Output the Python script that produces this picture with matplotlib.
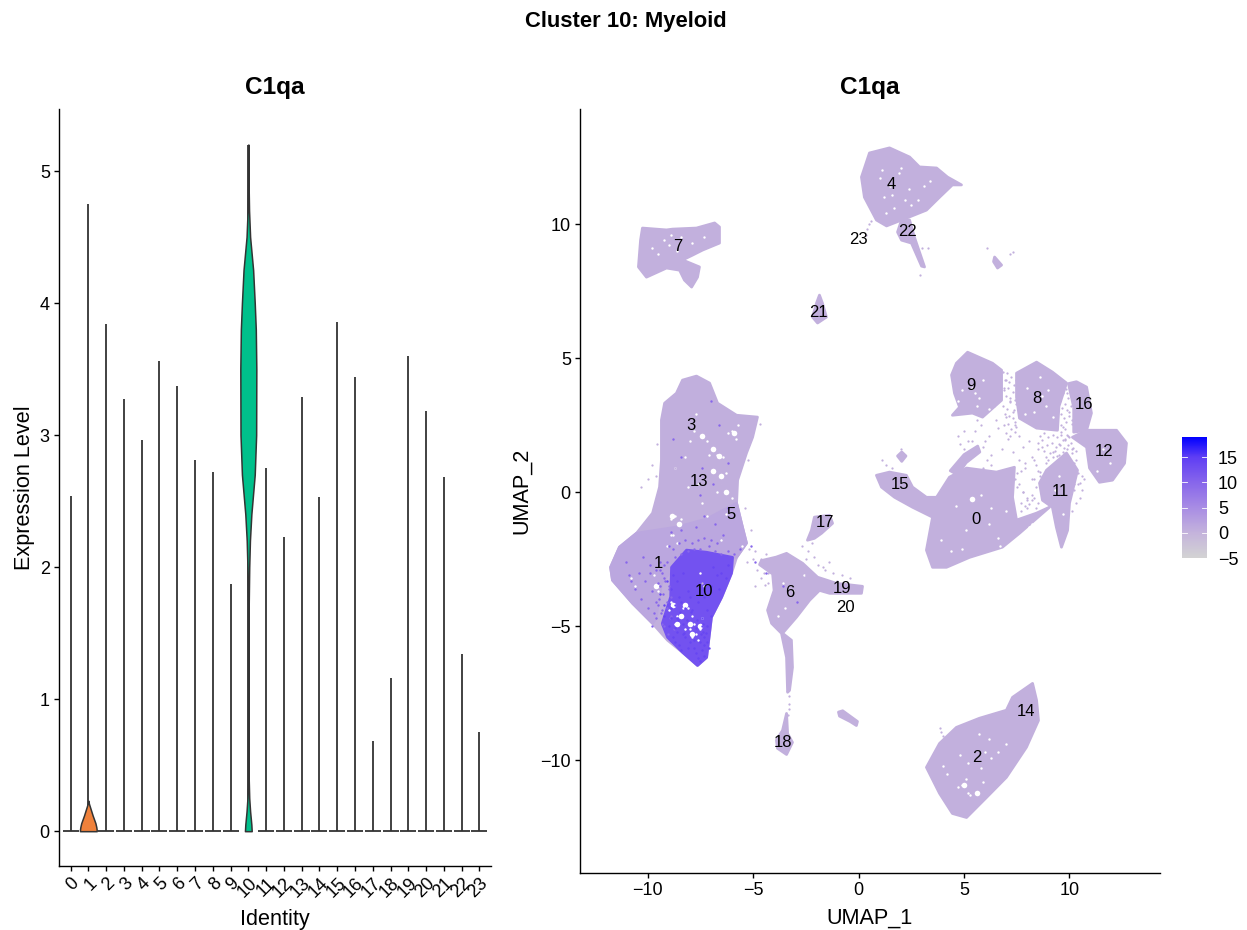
#!/usr/bin/env python3

import numpy as np
import matplotlib
matplotlib.use("Agg")
import matplotlib.pyplot as plt
from matplotlib.cm import ScalarMappable
from matplotlib.colors import LinearSegmentedColormap, Normalize
from matplotlib.patches import Polygon

plt.rcParams["font.family"] = ["Liberation Sans", "DejaVu Sans"]
plt.rcParams["axes.unicode_minus"] = True

identities = [str(i) for i in range(24)]
violin_max = [2.54, 4.75, 3.84, 3.27, 2.96, 3.56, 3.37, 2.81, 2.72, 1.87, 5.2, 2.75,
              2.23, 3.29, 2.53, 3.86, 3.44, 0.68, 1.16, 3.6, 3.18, 2.68, 1.34, 0.75]

# violin outlines (level, half width)
violin1_y = [0, 0.01, 0.03, 0.06, 0.09, 0.12, 0.15, 0.18, 0.21, 0.23]
violin1_w = [0.47, 0.47, 0.45, 0.4, 0.32, 0.24, 0.17, 0.1, 0.03, 0.01]
violin10_y = [0, 0.05, 0.15, 0.25, 0.4, 1.0, 1.7, 2.0, 2.2, 2.4, 2.7, 3.0, 3.5, 3.8, 4.0, 4.25, 4.5, 4.7, 4.9, 5.2]
violin10_w = [0.19, 0.17, 0.1, 0.05, 0.02, 0.015, 0.02, 0.05, 0.09, 0.17, 0.36, 0.44, 0.45, 0.42, 0.36, 0.27, 0.1, 0.04, 0.015, 0.01]

# UMAP cell regions, in UMAP units
c_left = [(-7.68, 4.33), (-7.06, 4.07), (-6.68, 3.32), (-5.78, 2.87), (-4.79, 2.8), (-5.02, 2.05),
          (-5.31, 1.46), (-5.73, 0.45), (-5.78, -0.41), (-5.5, -1.31), (-5.31, -1.9), (-5.78, -2.43),
          (-6.02, -3.02), (-6.49, -3.92), (-6.97, -4.66), (-7.2, -6.16), (-7.63, -6.46), (-8.34, -5.97),
          (-9.05, -5.52), (-9.76, -4.89), (-10.71, -4.14), (-11.66, -3.28), (-11.75, -2.8), (-11.33, -2.05),
          (-10.52, -1.53), (-9.76, -0.78), (-9.43, 0.19), (-9.34, 1.19), (-9.34, 2.69), (-9.19, 3.32),
          (-8.63, 3.69), (-8.34, 4.18)]
c_band = [(-5.78, -0.41), (-5.5, -1.31), (-5.31, -1.9), (-5.78, -2.43), (-8.15, -2.16), (-9.34, -3.4),
          (-9.6, -4.7), (-9.76, -4.89), (-10.71, -4.14), (-11.66, -3.28), (-11.75, -2.8), (-11.33, -2.05),
          (-10.52, -1.53), (-8.6, -1.3), (-7.2, -1.0)]
c10 = [(-8.15, -2.16), (-7.2, -2.24), (-5.97, -2.43), (-6.02, -3.02), (-6.49, -3.92), (-6.97, -4.66),
       (-7.2, -6.16), (-7.63, -6.46), (-8.34, -5.97), (-9.05, -5.41), (-9.3, -4.9), (-8.9, -3.9),
       (-8.86, -2.8)]
c4 = [(0.52, 12.65), (1.47, 12.84), (2.42, 12.5), (2.89, 12.13), (3.7, 12.09), (4.22, 11.75), (4.88, 11.46),
      (4.45, 11.46), (3.84, 11.0), (3.22, 10.52), (2.27, 10.22), (1.33, 9.93), (0.85, 10.15), (0.28, 11.0),
      (0.14, 11.75)]
c7 = [(-10.24, 9.85), (-9.1, 9.78), (-8.82, 9.81), (-7.68, 9.85), (-6.82, 10.04), (-6.59, 9.89), (-6.59, 9.29),
      (-7.39, 9.03), (-7.87, 8.84), (-8.34, 8.66), (-7.54, 8.4), (-7.63, 8.02), (-7.91, 7.65), (-8.25, 7.91),
      (-8.48, 8.28), (-9.1, 8.36), (-10.05, 8.02), (-10.43, 8.4), (-10.33, 9.4)]
c0 = [(3.51, -2.8), (3.22, -2.16), (3.51, -0.93), (3.7, -0.19), (4.31, 0.56), (5.12, 0.9), (6.54, 0.75),
      (7.39, 0.93), (7.3, -0.19), (7.49, -1.04), (8.44, -0.78), (9.05, -0.56), (7.63, -1.53), (6.82, -2.05),
      (5.26, -2.43), (4.17, -2.8)]
c15 = [(0.85, 0.63), (1.47, 0.75), (2.27, 0.63), (2.56, 0.19), (3.22, -0.19), (3.7, -0.19), (3.51, -0.93),
       (2.56, -0.56), (1.71, -0.19), (1.09, 0.19)]
c15b = [(1.85, 1.35), (2.05, 1.5), (2.25, 1.35), (2.05, 1.15)]
c_arc = [(4.35, 0.8), (5.0, 1.4), (5.65, 1.72), (5.75, 1.5), (5.1, 1.1), (4.7, 0.65)]
c9 = [(5.17, 5.22), (6.35, 4.81), (6.78, 4.55), (6.78, 3.43), (5.88, 2.8), (5.4, 2.95), (4.45, 2.87),
      (4.79, 3.17), (4.55, 3.69), (4.41, 4.37), (4.64, 4.81)]
c8 = [(7.49, 4.44), (8.44, 4.85), (9.19, 4.48), (9.86, 4.07), (9.5, 3.2), (9.43, 2.31), (8.44, 2.39), (7.63, 2.76), (7.49, 3.54)]
c16 = [(9.95, 4.05), (10.33, 4.12), (10.81, 3.92), (11.04, 2.95), (10.81, 2.31), (10.2, 2.24), (10.2, 3.17)]
c12 = [(10.81, 2.31), (12.23, 2.31), (12.7, 1.83), (12.61, 1.08), (12.04, 0.45), (11.42, 0.37), (10.95, 0.9),
       (10.81, 1.68), (10.14, 2.05)]
c11 = [(8.91, 0.82), (9.86, 1.46), (10.38, 0.82), (10.0, -0.41), (9.91, -1.42), (9.62, -2.05), (9.38, -1.31),
       (9.19, -0.56), (8.72, -0.3), (8.58, 0.34)]
c6 = [(-3.9, -2.42), (-3.41, -2.28), (-2.65, -2.65), (-1.94, -3.17), (-1.04, -3.4), (0.19, -3.51), (0.14, -3.77), (-1.37, -3.77),
      (-1.85, -3.66), (-2.32, -4.03), (-2.94, -4.66), (-3.6, -5.26), (-3.18, -5.52), (-3.13, -6.53), (-3.27, -7.39),
      (-3.36, -7.46), (-3.41, -6.16), (-3.65, -5.26), (-4.12, -4.89), (-4.31, -4.4), (-4.0, -3.66), (-4.07, -3.05),
      (-4.69, -2.7), (-4.6, -2.55)]
c18 = [(-3.41, -8.25), (-3.36, -9.0), (-3.13, -9.33), (-3.41, -9.78), (-3.84, -9.55), (-3.89, -9.25), (-3.6, -8.88)]
c17 = [(-2.09, -0.93), (-1.37, -0.86), (-1.23, -1.16), (-1.75, -1.53), (-2.09, -1.72), (-2.42, -1.79), (-2.23, -1.42)]
c_islet = [(-0.95, -8.2), (-0.75, -8.15), (-0.05, -8.55), (-0.1, -8.7), (-0.4, -8.55), (-0.9, -8.35)]
c2 = [(8.25, -7.13), (8.44, -7.76), (8.53, -8.51), (7.96, -9.51), (7.01, -10.63), (6.07, -11.38), (5.12, -12.13),
      (4.45, -11.98), (3.84, -11.23), (3.22, -10.26), (3.84, -9.37), (4.64, -8.77), (5.73, -8.43), (7.01, -8.13),
      (7.3, -7.65)]
c21 = [(-1.85, 7.35), (-1.71, 7.05), (-1.52, 6.53), (-1.94, 6.31), (-2.18, 6.53), (-1.99, 7.05)]
c22 = [(2.04, 10.15), (2.42, 10.15), (2.65, 9.51), (3.13, 8.4), (2.99, 8.43), (2.51, 9.29), (2.04, 9.4), (1.85, 9.7)]
c_right = [(6.45, 8.77), (6.78, 8.47), (6.59, 8.36), (6.4, 8.6)]

# larger holes in the cell clouds
void_x = [-8.4, -8.0, -8.2, -8.6, -7.9, -7.5, -8.8, -6.9, -6.6, -6.5, -6.9, -5.9, -8.85, -8.5, -6.3, 5.4, 5.0, 5.6, -9.6, -7.4]
void_y = [-4.6, -4.9, -4.2, -4.9, -5.3, -5.0, -4.2, 1.6, 1.35, 0.6, 0.8, 2.2, -0.9, -1.2, 0.0, -0.25, -10.9, -11.2, -3.5, 2.1]

# small white gaps
gap_x = [-8.7, -8.3, -8.1, -7.9, -8.6, -8.2, -8.0, -7.8, -7.7, -7.6, -7.9, -7.5, -8.9, -9.0, -7.4, -7.5, -7.3,
         -7.1, -6.7, -6.4, -6.3, -7.2, -6.2, -6.0, -5.8, -5.7, -8.7, -8.4, -7.7, -8.0, -7.8, -6.7, -8.7, -8.2,
         -10.8, -10.6, -9.7, -9.5, -8.9, -8.8, -8.6, -7.2, -7.6, -6.3, -6.5, -7.4, -8.1, -6.0, -5.5, -5.3, -8.9, -9.1,
         4.6, 6.6, 6.7, 8.1, 8.2, 4.9, 5.2, 5.1, 5.3, 4.8, 5.2, 5.8, 6.2, 6.6, 4.2, 4.7, 5.7, 6.3, 5.9, 7.0, 6.0, 4.0,
         1.5, 1.2, 1.0, 1.7, 1.6, 1.1, 2.0, 2.4, 2.8, 3.1, 2.5, 1.9, 1.3, 3.4, 2.2,
         -9.0, -9.2, -8.6, -8.4, -7.9, -9.8, -9.5, -8.9, -7.3,
         5.5, 5.7, 5.4, 5.6, 5.9, 4.7, 4.9, 6.2, 6.4, 8.0, 8.7, 8.9, 8.3, 9.0, 8.6, 7.9, 9.2,
         6.2, 5.1, 3.9, 4.4, 6.3, 7.0, 5.8, 4.9, -3.6, -3.1, -3.5, -3.8, -2.6, 11.6, 11.9, 11.3, 9.5, 9.3, 9.7]
gap_y = [-4.9, -4.3, -4.3, -4.6, -4.6, -5.1, -5.1, -4.9, -5.3, -5.5, -5.4, -5.1, -4.1, -4.4, -4.7, -3.0, -3.5,
         1.4, 1.4, 1.3, 0.7, 1.9, 2.2, 2.3, 2.0, 2.5, -0.9, -1.0, 2.9, 1.9, 2.3, 0.0, 0.9, 1.3,
         -3.2, -3.5, -3.1, -3.7, -1.0, -1.6, -1.9, -0.9, 0.3, -0.8, -1.8, -0.4, 0.2, -0.2, -2.0, -2.2, -1.6, -2.0,
         -0.5, -1.7, -2.0, -1.3, -1.2, -10.9, -11.2, -10.7, -11.3, -9.8, -10.1, -10.3, -9.2, -9.7, -10.5, -11.0, -9.0, -9.9, -10.8, -9.4, -9.7, -10.2,
         11.4, 11.0, 11.7, 10.6, 11.1, 12.0, 12.1, 11.3, 10.9, 11.4, 10.7, 11.9, 10.4, 11.6, 10.9,
         9.2, 9.4, 9.0, 9.5, 9.3, 9.1, 8.9, 9.6, 9.5,
         3.7, 3.5, 3.9, 3.2, 4.2, 3.4, 3.8, 3.1, 2.9, 3.9, 3.6, 3.2, 3.0, 3.8, 4.3, 2.9, 2.8,
         -1.2, -1.4, -1.8, -2.2, -0.6, -0.7, -0.1, -2.1, -3.4, -3.7, -4.3, -4.6, -3.1, 1.6, 1.1, 0.8, 0.6, 0.1, -0.8]

# loose lavender cells between the clusters
loose_x = [6.9, 7.2, 7.0, 6.6, 6.2, 6.0, 5.8, 6.5, 7.1, 7.4, 6.8, 6.3, 5.9, 6.1, 7.3, 7.6, 7.8, 8.1, 8.5, 8.9, 9.2, 9.5,
           9.8, 10.1, 9.7, 9.3, 9.0, 8.7, 8.3, 7.9, 8.2, 8.6, 9.1, 9.6, 10.0, 10.3, 10.6, 9.9, 9.4, 7.5, 7.8, 8.0, 8.4,
           8.8, 8.0, 7.7, 7.4, 7.6, 8.2, 8.4, 5.5, 5.2, 5.6, 6.0, 6.4, 5.0, 4.8, 6.7, 7.0, 7.3, 9.8, 10.0, 10.2, 10.4,
           -5.2, -4.9, -4.6, -5.0, -4.4, -4.2, -4.8, -4.5, -5.3, -3.9, -5.1, -5.4,
           -2.7, -2.4, -2.2, -2.1, -2.5, -1.9, -1.6, -1.2, -0.8, -0.4, -1.0, -4.6, -4.9, -4.3, -3.3, -3.3, -3.3, -3.35,
           0.5, 0.4, 0.6, 0.35, 2.9, 3.3, 3.0, 7.2, 7.3, 6.1, 2.0, 1.3, 1.6, 1.1, 3.0, 3.84, 3.9, 4.0,
           # dense parts around 8, 9, 16
           6.85, 6.95, 7.05, 7.15, 7.25, 7.35, 7.45, 6.9, 7.0, 7.1, 7.2, 7.3, 7.4, 6.85, 7.05, 7.2, 7.35, 7.45, 6.95, 7.15, 7.3, 7.4,
           6.9, 7.1, 7.25, 7.45, 7.0, 7.2, 7.4, 9.6, 9.7, 9.85, 10.0, 10.1, 9.55, 9.65, 9.8, 9.95, 10.05, 9.6, 9.75, 9.9, 10.1,
           9.7, 9.85, 10.0, 9.6, 9.8, 9.95, 10.1, 9.7, 9.9, 10.05, 8.6, 8.8, 9.0, 9.2, 9.4, 9.6, 9.8, 10.0, 8.5, 8.7, 8.95, 9.15,
           9.35, 9.55, 9.75, 9.95, 10.15, 8.8, 9.1, 9.3, 9.5, 9.7, 9.9, 10.1, 10.3, 9.2, 9.4, 9.6, 9.8, 10.0, 10.2,
           # around 11
           8.9, 9.0, 9.1, 8.8, 8.7, 8.6, 8.4, 8.3, 8.5, 8.2, 9.3, 9.5, 9.7, 10.0, 10.2, 10.4, 10.6, 10.5, 10.3, 10.1, 10.7, 10.5,
           7.6, 7.8, 8.0, 8.2, 7.7, 7.9, 8.1, 8.3, 8.5, 7.5, 7.7, 7.9, 5.9, 6.1, 6.3, 6.0, 5.4, 5.0, 4.7,
           # 3/13 and 6 fringes
           -4.65, -4.9, -5.1, -5.2, -5.25, -9.55, -9.6, -9.8, -10.0, -10.3, -9.5, -7.4, -7.0, -6.5, -8.7,
           -4.3, -4.45, -2.5, -2.3, -2.1, -2.7, -1.7, -1.4]
loose_y = [3.9, 3.4, 2.8, 2.4, 2.1, 1.9, 2.5, 2.7, 2.0, 2.5, 1.6, 1.4, 1.7, 1.2, 1.5, 2.1, 1.7, 1.9, 1.6, 1.3, 1.5, 1.8,
           2.0, 1.6, 1.2, 0.9, 1.2, 1.7, 1.2, 0.9, 0.5, 0.6, -0.2, 2.5, 3.0, 1.2, 0.6, 3.7, 3.3, 0.2, 0.0, -0.3, 0.2,
           0.4, -0.6, -0.7, 0.5, 1.2, -0.3, -0.6, 2.3, 1.9, 2.7, 3.0, 3.2, 2.3, 1.8, 3.6, 4.2, 3.0, 0.4, 0.0, 0.3, 0.7,
           -2.1, -2.2, -2.5, -2.5, -2.3, -2.6, -2.9, -3.0, -2.6, -2.7, -1.4, -0.6,
           -2.0, -2.2, -1.9, -2.4, -2.5, -2.7, -2.9, -3.0, -3.1, -3.2, -3.3, -3.2, -3.5, -3.4, -7.6, -7.9, -8.1, -8.3,
           10.0, 9.8, 10.1, 9.6, 8.1, 9.1, 8.6, 8.9, 8.95, 9.1, 1.6, 1.0, 0.9, 1.2, 9.1, -8.8, -8.95, -9.1,
           4.5, 4.2, 4.45, 4.1, 4.3, 4.0, 4.2, 3.8, 3.6, 3.9, 3.5, 3.75, 3.45, 3.2, 3.1, 3.35, 3.05, 3.3, 2.9, 2.85, 2.75, 2.6,
           2.5, 2.55, 2.35, 2.45, 2.2, 2.1, 2.25, 3.9, 3.7, 3.85, 3.95, 3.6, 3.4, 3.15, 3.3, 3.5, 3.2, 2.9, 2.75, 3.05, 2.7,
           2.45, 2.6, 2.85, 2.25, 2.35, 2.1, 2.55, 1.95, 2.15, 1.85, 2.1, 2.2, 2.05, 2.15, 2.05, 2.15, 1.95, 2.05, 1.85, 1.95, 1.75, 1.85,
           1.7, 1.75, 1.65, 1.75, 1.65, 1.55, 1.45, 1.55, 1.4, 1.5, 1.6, 1.45, 1.55, 1.3, 1.35, 1.25, 1.3, 1.2, 1.1,
           1.1, 0.6, 0.2, 0.0, -0.2, 0.75, 1.0, 0.5, 0.8, 1.3, 0.2, -0.1, -0.25, 0.4, 0.1, 0.3, 0.1, -0.2, -0.4, -0.7, 0.5, 0.35,
           0.3, 0.0, -0.2, -0.1, -0.4, -0.5, -0.45, -0.2, -0.4, 0.7, 0.8, 1.1, 0.9, 0.6, 1.0, 0.4, 1.9, 1.6, 2.1,
           2.55, 2.6, 2.2, 1.8, 1.2, 1.8, 0.6, 1.0, 0.5, 0.2, -0.5, -3.4, 0.0, 0.3, 0.9,
           -3.0, -3.45, -3.1, -3.4, -3.2, -3.6, -2.8, -2.6]

# purple cells around cluster 10
mid_x = [-9.6, -9.4, -9.8, -10.1, -9.9, -9.5, -9.3, -9.7, -10.3, -10.6, -9.2, -9.4, -9.0, -9.1, -8.9, -9.3, -9.6, -10.0,
         -9.9, -9.4, -10.2, -10.9, -11.0, -9.1, -8.7, -8.4, -8.1, -7.8, -7.5, -7.1, -6.8, -6.5, -6.2, -5.9, -8.8, -8.5,
         -8.2, -7.9, -7.6, -7.3, -7.0, -6.7, -8.4, -7.7, -6.4, -8.9, -9.0, -10.4, -10.8, -9.8, -7.3, -6.8, -6.2,
         -7.4, -6.6, -8.4, -7.5, -5.6, -5.1, -4.9, -4.4, -3.6, -2.9, -6.9, -6.2, -8.8, -7.0,
         -9.3, -9.15, -9.0, -8.9, -9.25, -9.1, -8.95, -8.75, -9.35, -9.2, -9.05, -9.5, -9.45, -9.6, -9.2]
mid_y = [-2.9, -3.5, -3.7, -3.3, -2.7, -4.2, -4.4, -4.5, -4.0, -3.6, -3.2, -2.9, -3.5, -4.1, -4.6, -4.9, -4.7, -4.3,
         -3.0, -2.6, -2.4, -3.1, -2.6, -2.6, -2.4, -2.3, -2.2, -2.1, -2.1, -2.0, -2.2, -2.3, -2.2, -2.3, -2.1, -1.9,
         -1.8, -1.9, -1.8, -1.7, -1.8, -1.9, -1.4, -1.3, -1.6, -1.5, -2.0, -3.0, -3.3, -5.0, -0.9, -1.2, -0.6,
         0.9, 2.5, 1.3, -0.1, -2.1, -2.0, -2.6, -3.0, -3.5, -4.1, 0.3, 1.1, 2.0, 3.4,
         -3.0, -3.3, -3.6, -3.9, -3.8, -4.3, -4.7, -5.1, -4.5, -5.0, -5.3, -3.4, -4.0, -4.1, -2.7]
dark_x = [-8.8, -8.6, -8.3, -8.1, -8.9, -8.5, -8.2, -7.9, -8.7, -8.4, -8.0, -7.6, -7.3, -7.0, -8.9, -8.6, -8.3, -9.2,
          -9.0, -8.7, -9.4, -9.1, -9.2, -8.9, -8.6, -6.9, -6.7, -6.5, -6.3, -6.2, -6.6, -7.2, -7.0, -7.4, -7.3, -7.1,
          -7.3, -7.5, -7.4, -7.5, -7.6, -7.7, -7.8, -8.0, -8.2, -8.5, -8.8, -8.4, -8.1, -7.8, -7.4,
          -8.45, -8.15, -7.95, -8.55, -8.3, -7.65, -8.7, -8.25, -7.35, -7.7, -7.2, -7.25, -7.35, -7.45, -7.2, -7.3]
dark_y = [-3.1, -3.3, -3.0, -3.7, -3.6, -3.9, -4.3, -4.4, -4.2, -4.1, -3.9, -4.1, -3.9, -3.5, -4.7, -5.2, -5.3, -4.2,
          -5.0, -5.6, -3.8, -3.3, -4.6, -4.3, -4.7, -2.8, -3.1, -3.0, -3.2, -2.7, -3.6, -4.4, -4.6, -5.0, -5.4, -5.8,
          -6.1, -6.3, -5.9, -5.6, -6.2, -6.0, -5.8, -5.6, -5.4, -5.7, -5.4, -5.9, -5.8, -5.5, -4.7,
          -4.45, -4.75, -4.45, -4.75, -4.9, -4.75, -5.05, -5.25, -5.2, -5.05, -5.0, -5.25, -4.9, -5.3, -5.6, -5.7]

region_list = [(c_left, 0.6), (c_band, 1.6), (c10, 12.5), (c4, 0.4), (c7, 0.4), (c0, 0.4), (c15, 0.4), (c15b, 0.4),
               (c_arc, 0.4), (c9, 0.4), (c8, 0.4), (c16, 0.4), (c12, 0.4), (c11, 0.4), (c6, 0.4), (c18, 0.4),
               (c17, 0.4), (c_islet, 0.4), (c2, 0.4), (c21, 0.4), (c22, 0.4), (c_right, 0.4)]

label_names = [str(i) for i in range(24)]
label_x = [5.59, -9.48, 5.59, -7.96, 1.56, -6.02, -3.27, -8.58, 8.44, 5.31, -7.3, 9.57, 11.66, -7.58, 7.96, 1.99, 10.71,
           -1.61, -3.6, -0.76, -0.62, -1.9, 2.32, 0.0]
label_y = [-1.0, -2.65, -9.89, 2.5, 11.49, -0.82, -3.73, 9.18, 3.5, 3.99, -3.69, 0.04, 1.53, 0.41, -8.17, 0.3, 3.28,
           -1.12, -9.33, -3.58, -4.29, 6.72, 9.74, 9.44]

scale_stops = [-5, 0, 5, 10, 15, 19]
scale_colors = ["#D3D3D3", "#C4B3DC", "#A88CE4", "#8766EB", "#5F3EF4", "#0000FF"]
scale_ticks = [-5, 0, 5, 10, 15]

LINE = "#333333"
W, H = 1247, 930


def _axes_px(fig, left, right, top, bottom):
    return fig.add_axes([left / W, 1 - bottom / H, (right - left) / W, (bottom - top) / H])


def _style(ax):
    ax.spines["top"].set_visible(False)
    ax.spines["right"].set_visible(False)
    ax.spines["left"].set_linewidth(1.0)
    ax.spines["bottom"].set_linewidth(1.0)
    ax.tick_params(length=3.6, width=1.0, labelsize=13, color="black", labelcolor="black", pad=3)


fig = plt.figure(figsize=(W / 100, H / 100), dpi=100)
fig.text(625.5 / W, 1 - 21.5 / H, "Cluster 10: Myeloid", ha="center", va="center", fontsize=15.8, fontweight="bold")

# violin panel
ax = _axes_px(fig, 59, 491, 109, 865.5)
_style(ax)
for i, top in enumerate(violin_max):
    ax.plot([i, i], [0, top], color=LINE, lw=1.3, solid_capstyle="butt", zorder=2)
    if i not in (1, 10):
        ax.plot([i - 0.45, i + 0.45], [0, 0], color=LINE, lw=1.3, solid_capstyle="butt", zorder=2)
ax.fill_betweenx(violin1_y, 1 - np.array(violin1_w), 1 + np.array(violin1_w), facecolor="#EF813B", edgecolor=LINE, lw=1.1, zorder=3)
ax.fill_betweenx(violin10_y, 10 - np.array(violin10_w), 10 + np.array(violin10_w), facecolor="#00C08B", edgecolor=LINE, lw=1.1, zorder=3)
ax.set_xlim(-0.65, 23.65)
ax.set_ylim(-0.26, 5.47)
ax.set_xticks(range(24))
ax.set_xticklabels(identities, rotation=45, ha="right", rotation_mode="anchor")
ax.set_yticks([0, 1, 2, 3, 4, 5])
ax.set_xlabel("Identity", fontsize=15.6, labelpad=5.5)
ax.set_ylabel("Expression Level", fontsize=15.6, labelpad=3.5)
ax.set_title("C1qa", fontsize=17.6, fontweight="bold", pad=11)

# UMAP panel
cmap = LinearSegmentedColormap.from_list("expr", [((s + 5) / 24, c) for s, c in zip(scale_stops, scale_colors)])
norm = Normalize(-5, 19)
ax = _axes_px(fig, 580, 1160, 109, 873)
_style(ax)
for points, level in region_list:
    ax.add_patch(Polygon(points, closed=True, facecolor=cmap(norm(level)), edgecolor=cmap(norm(level)),
                         lw=2.0, joinstyle="round"))
ax.scatter(void_x, void_y, s=16, color="white", linewidths=0, zorder=3)
ax.scatter(gap_x, gap_y, s=3.0, color="white", linewidths=0, zorder=3)
ax.scatter(loose_x, loose_y, s=2.6, color=cmap(norm(0.4)), linewidths=0, zorder=3)
ax.scatter(mid_x, mid_y, s=3.0, color=cmap(norm(10)), linewidths=0, zorder=4)
ax.scatter(dark_x, dark_y, s=3.0, color=cmap(norm(14)), linewidths=0, zorder=4)
for name, x, y in zip(label_names, label_x, label_y):
    ax.text(x, y, name, ha="center", va="center", fontsize=12, color="black", zorder=5)
ax.set_xlim(-13.2, 14.29)
ax.set_ylim(-14.2, 14.29)
ax.set_xticks([-10, -5, 0, 5, 10])
ax.set_yticks([-10, -5, 0, 5, 10])
ax.set_xlabel("UMAP_1", fontsize=15.6, labelpad=6)
ax.set_ylabel("UMAP_2", fontsize=15.6, labelpad=6)
ax.set_title("C1qa", fontsize=17.6, fontweight="bold", pad=11)

# colour scale
cax = _axes_px(fig, 1182, 1207, 437, 558)
cb = fig.colorbar(ScalarMappable(norm=norm, cmap=cmap), cax=cax)
cb.outline.set_visible(False)
cb.set_ticks(scale_ticks)
cb.ax.tick_params(length=0, labelsize=13, pad=8)
for t in scale_ticks:
    cax.plot([0, 0.2], [t, t], color="white", lw=0.6, transform=cax.get_yaxis_transform())
    cax.plot([0.8, 1], [t, t], color="white", lw=0.6, transform=cax.get_yaxis_transform())

plt.savefig("out.png", dpi=100)
